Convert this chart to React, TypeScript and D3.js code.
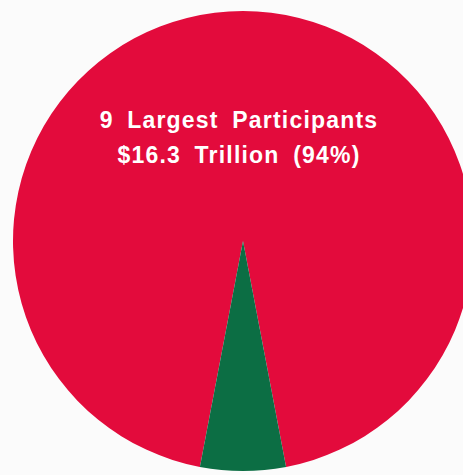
import React from 'react';
import * as d3 from 'd3';

const categories = ['9 Largest Participants', 'Other Participants'];
const shares = [94, 6];
const colors = ['#e30b3c', '#0c6e44'];
const titleLines = ['9 Largest Participants', '$16.3 Trillion (94%)'];

const WIDTH = 463;
const HEIGHT = 475;

export default function App() {
  const cx = 243;
  const cy = 241;
  const radius = 230;

  const data = categories.map((c, i) => ({ label: c, value: shares[i], color: colors[i] }));

  // green slice sits centred on the bottom of the pie
  const start = Math.PI + (shares[1] / 100) * Math.PI;
  const pie = d3
    .pie<{ label: string; value: number; color: string }>()
    .value((d) => d.value)
    .sort(null)
    .startAngle(start)
    .endAngle(start + 2 * Math.PI);

  const arc = d3
    .arc<d3.PieArcDatum<{ label: string; value: number; color: string }>>()
    .innerRadius(0)
    .outerRadius(radius);

  const arcs = pie(data);

  return (
    <div style={{ position: 'fixed', left: 0, top: 0 }}>
      <svg width={WIDTH} height={HEIGHT} style={{ display: 'block', background: '#fbfbfb' }}>
        <g transform={`translate(${cx},${cy})`}>
          {arcs.map((a) => (
            <path key={a.data.label} d={arc(a) ?? ''} fill={a.data.color} />
          ))}
        </g>
        <g
          fill="#ffffff"
          fontFamily="'Liberation Sans', Arial, sans-serif"
          fontWeight="bold"
          fontSize={23}
          textAnchor="middle"
          style={{ wordSpacing: '6px', letterSpacing: '1.2px' }}
        >
          {titleLines.map((t, i) => (
            <text key={t} x={239} y={128 + i * 35}>
              {t}
            </text>
          ))}
        </g>
      </svg>
    </div>
  );
}
